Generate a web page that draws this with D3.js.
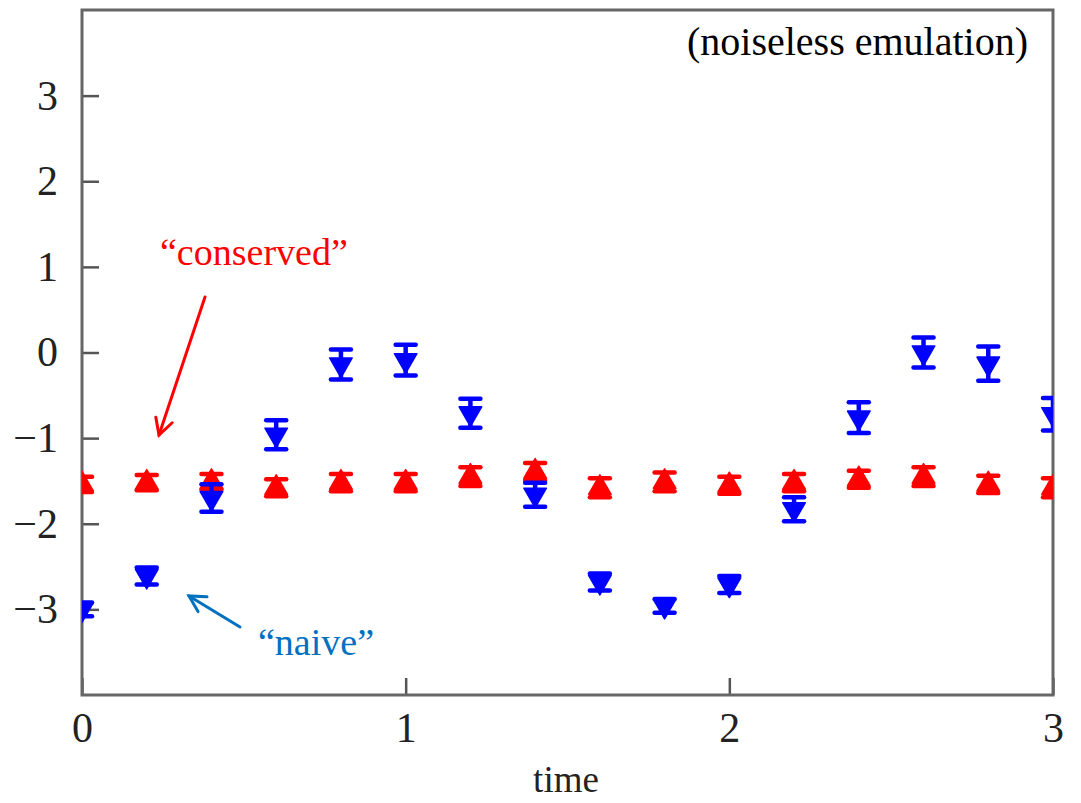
<!DOCTYPE html>
<html>
<head>
<meta charset="utf-8">
<script src="https://cdn.jsdelivr.net/npm/d3@7"></script>
<style>
  body { margin: 0; background: #fff; }
</style>
</head>
<body>
<div class="chart"></div>
<script>
// time points (every 0.2)
var times = [0, 0.2, 0.4, 0.6, 0.8, 1.0, 1.2, 1.4, 1.6, 1.8, 2.0, 2.2, 2.4, 2.6, 2.8, 3.0];

// "naive" series (blue, down triangles)
var naiveValues = [-3.0, -2.61, -1.70, -0.96, -0.14, -0.09, -0.71, -1.66, -2.68, -2.96, -2.71, -1.83, -0.76, 0.0, -0.13, -0.72];
var naiveErrors = [0.08, 0.10, 0.16, 0.17, 0.175, 0.18, 0.17, 0.14, 0.10, 0.08, 0.10, 0.14, 0.18, 0.175, 0.2, 0.19];

// "conserved" series (red, up triangles)
var conservedValues = [-1.54, -1.52, -1.51, -1.58, -1.52, -1.52, -1.45, -1.39, -1.58, -1.51, -1.55, -1.52, -1.48, -1.45, -1.54, -1.58];
var conservedErrors = [0.09, 0.09, 0.09, 0.1, 0.1, 0.1, 0.11, 0.1, 0.11, 0.11, 0.1, 0.1, 0.1, 0.11, 0.1, 0.11];

var xTicks = [0, 1, 2, 3];
var yTicks = [-3, -2, -1, 0, 1, 2, 3];

var svgWidth = 1081, svgHeight = 803;
var margin = { top: 10, right: 28, bottom: 108, left: 82 };
var width = svgWidth - margin.left - margin.right;
var height = svgHeight - margin.top - margin.bottom;

var svg = d3.select(".chart").append("svg")
  .attr("width", svgWidth)
  .attr("height", svgHeight);

var chartGroup = svg.append("g")
  .attr("transform", `translate(${margin.left}, ${margin.top})`);

var xScale = d3.scaleLinear().domain([0, 3]).range([0, width]);
var yScale = d3.scaleLinear().domain([-4, 4]).range([height, 0]);

svg.append("defs").append("clipPath").attr("id", "plotclip")
  .append("rect").attr("width", width).attr("height", height);

var serif = "'Liberation Serif', 'Times New Roman', serif";

// axes with inward ticks
var yAxis = d3.axisLeft(yScale).tickValues(yTicks).tickFormat(d3.format("d"))
  .tickSizeInner(-17).tickSizeOuter(0).tickPadding(24);
var xAxis = d3.axisBottom(xScale).tickValues(xTicks).tickFormat(d3.format("d"))
  .tickSizeInner(-17).tickSizeOuter(0).tickPadding(17);

var yG = chartGroup.append("g").call(yAxis);
var xG = chartGroup.append("g").attr("transform", `translate(0, ${height})`).call(xAxis);

[yG, xG].forEach(function(g) {
  g.select(".domain").remove();
  g.selectAll("line").attr("stroke", "#555").attr("stroke-width", 2.5);
  g.selectAll("text")
    .attr("font-family", serif)
    .attr("font-size", "42px")
    .attr("fill", "#222");
});

// frame
chartGroup.append("rect")
  .attr("width", width)
  .attr("height", height)
  .attr("fill", "none")
  .attr("stroke", "#666")
  .attr("stroke-width", 3);

// data series
var naive = times.map((t, i) => ({ t: t, v: naiveValues[i], e: naiveErrors[i] }));
var conserved = times.map((t, i) => ({ t: t, v: conservedValues[i], e: conservedErrors[i] }));

var plot = chartGroup.append("g").attr("clip-path", "url(#plotclip)");

function drawSeries(data, color, rotate) {
  var g = plot.append("g");
  var pts = g.selectAll("g.pt").data(data).enter().append("g")
    .attr("transform", d => `translate(${xScale(d.t)}, ${yScale(d.v)})`);

  pts.append("line")
    .attr("x1", 0).attr("x2", 0)
    .attr("y1", d => yScale(d.v + d.e) - yScale(d.v))
    .attr("y2", d => yScale(d.v - d.e) - yScale(d.v))
    .attr("stroke", color).attr("stroke-width", 4.5);

  [1, -1].forEach(function(s) {
    pts.append("line")
      .attr("x1", -10).attr("x2", 10)
      .attr("y1", d => yScale(d.v + s * d.e) - yScale(d.v))
      .attr("y2", d => yScale(d.v + s * d.e) - yScale(d.v))
      .attr("stroke", color).attr("stroke-width", 4.5)
      .attr("stroke-linecap", "round");
  });

  pts.append("path")
    .attr("d", d3.symbol().type(d3.symbolTriangle).size(220))
    .attr("transform", `rotate(${rotate})`)
    .attr("fill", color)
    .attr("stroke", color)
    .attr("stroke-width", 1.5)
    .attr("stroke-linejoin", "round");
}

drawSeries(conserved, "#ff0000", 0);
drawSeries(naive, "#0000ff", 180);

// axis label
svg.append("text")
  .attr("x", 566)
  .attr("y", 792)
  .attr("text-anchor", "middle")
  .attr("font-family", serif)
  .attr("font-size", "37px")
  .attr("fill", "#222")
  .text("time");

// annotations
svg.append("text")
  .attr("x", 1028).attr("y", 55)
  .attr("text-anchor", "end")
  .attr("font-family", serif)
  .attr("font-size", "40px")
  .attr("fill", "#000")
  .text("(noiseless emulation)");

svg.append("text")
  .attr("x", 160).attr("y", 265)
  .attr("font-family", serif)
  .attr("font-size", "38px")
  .attr("fill", "#ff0000")
  .text("\u201cconserved\u201d");

svg.append("text")
  .attr("x", 258).attr("y", 655)
  .attr("font-family", serif)
  .attr("font-size", "38px")
  .attr("fill", "#0070c0")
  .text("\u201cnaive\u201d");

function arrow(x1, y1, x2, y2, color) {
  var ang = Math.atan2(y2 - y1, x2 - x1);
  var len = 18, spread = 0.5;
  var g = svg.append("g").attr("stroke", color).attr("stroke-width", 3).attr("fill", "none")
    .attr("stroke-linecap", "round");
  g.append("line").attr("x1", x1).attr("y1", y1).attr("x2", x2).attr("y2", y2);
  g.append("path").attr("d", d3.line()([
    [x2 - len * Math.cos(ang - spread), y2 - len * Math.sin(ang - spread)],
    [x2, y2],
    [x2 - len * Math.cos(ang + spread), y2 - len * Math.sin(ang + spread)]
  ]));
}

arrow(205, 297, 159, 435, "#ff0000");
arrow(240, 627, 189, 596, "#0070c0");
</script>
</body>
</html>
